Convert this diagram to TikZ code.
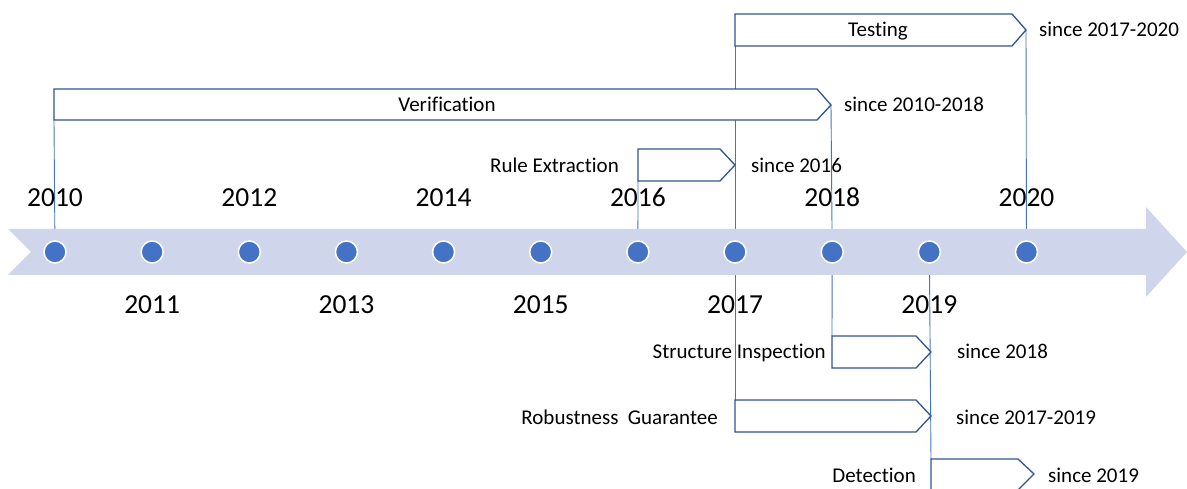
\documentclass[tikz,border=0pt]{standalone}
\usepackage{fontspec}
\setmainfont{Carlito}[Ligatures=NoCommon]
\definecolor{bandcol}{HTML}{CFD5EA}
\definecolor{dotblue}{HTML}{4472C4}
\definecolor{boxblue}{HTML}{2F5597}
\begin{document}
\begin{tikzpicture}[x=1pt,y=-1pt,
  yr/.style={font=\fontsize{27.5}{30}\selectfont, anchor=base, inner sep=0pt},
  lbl/.style={font=\fontsize{21}{24}\selectfont, inner sep=0pt},
  yeardot/.style={circle, fill=dotblue, draw=white, line width=1.5pt, minimum size=22pt, inner sep=0pt},
  conn/.style={draw=dotblue, line width=0.9pt},
  phase/.style={draw=boxblue, line width=1.3pt, fill=white, line join=miter}]
\useasboundingbox (0,0) rectangle (1187,489);

% dot positions
\foreach \y [count=\i from 0] in {2010,...,2020}
  \coordinate (c\y) at ({55+97.15*\i},252);

% phase boxes (pentagon arrows)
\path (735,14) coordinate (tesNW) (1026,30) coordinate (tesTip) (735,46) coordinate (tesSW);
\path (54,89) coordinate (verNW) (831,105) coordinate (verTip) (54,120) coordinate (verSW);
\path (638,149) coordinate (rulNW) (735,165) coordinate (rulTip) (638,181) coordinate (rulSW);
\path (832,336) coordinate (strNW) (931,352) coordinate (strTip) (832,368) coordinate (strSW);
\path (735,400) coordinate (robNW) (931,416) coordinate (robTip) (735,432) coordinate (robSW);
\path (931,459) coordinate (detNW) (1034,474) coordinate (detTip) (931,490) coordinate (detSW);

% connectors
\draw[conn] (tesSW) -- (robNW);
\draw[conn] (tesTip) -- (c2020);
\draw[conn] (verSW) -- (c2010);
\draw[conn] (verTip) -- (c2018);
\draw[conn] (rulSW) -- (c2016);
\draw[conn] (c2018) -- (strNW);
\draw[conn] (c2019) -- (detNW);

% boxes
\draw[phase] (tesNW) -- (1012,14) -- (tesTip) -- (1012,46) -- (tesSW) -- cycle;
\draw[phase] (verNW) -- (817,89) -- (verTip) -- (817,120) -- (verSW) -- cycle;
\draw[phase] (rulNW) -- (720,149) -- (rulTip) -- (720,181) -- (rulSW) -- cycle;
\draw[phase] (strNW) -- (916,336) -- (strTip) -- (916,368) -- (strSW) -- cycle;
\draw[phase] (robNW) -- (916,400) -- (robTip) -- (916,432) -- (robSW) -- cycle;
\draw[phase] (detNW) -- (1018,459) -- (detTip) -- (1018,490) -- (detSW) -- cycle;

% timeline band
\fill[bandcol] (8,229) -- (1146,229) -- (1146,207) -- (1187,252) -- (1146,297)
  -- (1146,275) -- (8,275) -- (31,252) -- cycle;

% dots
\foreach \y in {2010,...,2020}
  \node[yeardot] (d\y) at (c\y) {};

% year labels
\foreach \y in {2010,2012,2014,2016,2018,2020}
  \node[yr] (y\y) at ([yshift=45pt]c\y) {\y};
\foreach \y in {2011,2013,2015,2017,2019}
  \node[yr] (y\y) at ([yshift=-61pt]c\y) {\y};

% phase labels
\node[lbl, anchor=base] (tTesting) at (878,37) {Testing};
\node[lbl, anchor=base west] (sTesting) at (1039,37) {since 2017-2020};
\node[lbl, anchor=base] (tVer) at (447,112) {Verification};
\node[lbl, anchor=base west] (sVer) at (844,112) {since 2010-2018};
\node[lbl, anchor=base east] (tRule) at (619,173) {Rule Extraction};
\node[lbl, anchor=base west] (sRule) at (751,173) {since 2016};
\node[lbl, anchor=base east] (tStr) at (826,359) {Structure Inspection};
\node[lbl, anchor=base west] (sStr) at (957,359) {since 2018};
\node[lbl, anchor=base east] (tRob) at (718,424) {Robustness\ \ Guarantee};
\node[lbl, anchor=base west] (sRob) at (956,424) {since 2017-2019};
\node[lbl, anchor=base east] (tDet) at (916,482) {Detection};
\node[lbl, anchor=base west] (sDet) at (1048,482) {since 2019};
\end{tikzpicture}
\end{document}
